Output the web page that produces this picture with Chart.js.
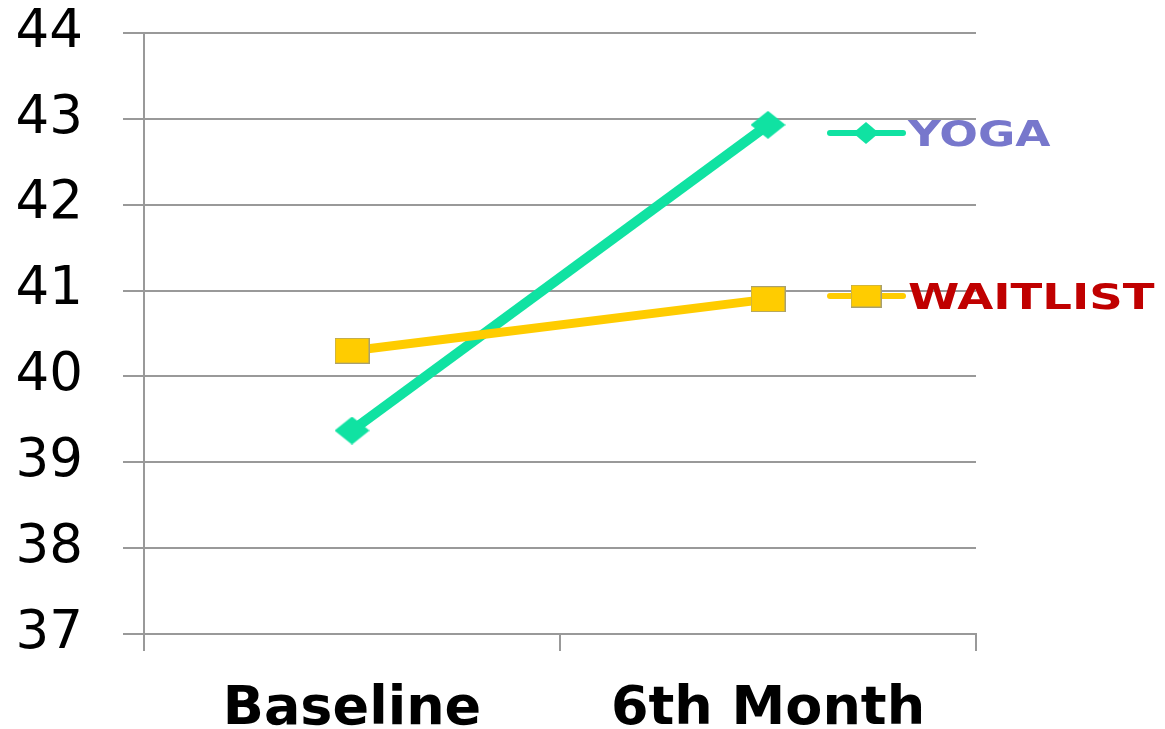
<!DOCTYPE html>
<html>
<head>
<meta charset="utf-8">
<title>Yoga vs Waitlist</title>
<script src="https://cdn.jsdelivr.net/npm/chart.js@4/dist/chart.umd.min.js"></script>
<style>
  html, body { margin: 0; padding: 0; background: #ffffff; }
  canvas { display: block; }
</style>
</head>
<body>
<canvas id="chart" width="1165" height="729"></canvas>
<script>
// Time points and group means
const categories = ['Baseline', '6th Month'];
const seriesNames = ['YOGA', 'WAITLIST'];
const yogaValues = [39.37, 42.93];
const waitlistValues = [40.30, 40.90];
const yTickValues = [37, 38, 39, 40, 41, 42, 43, 44];

// Colours
const yogaColor = '#10E2A2';
const waitColor = '#FFCC00';
const waitEdge = '#A8A070';
const gridColor = '#999999';
const legendTextColors = ['#7777CC', '#C00000'];

// Marker images (slightly wide, as drawn in the original deck)
function diamondImage(w, h, fill) {
  const c = document.createElement('canvas');
  c.width = w; c.height = h;
  const g = c.getContext('2d');
  g.fillStyle = fill;
  g.beginPath();
  g.moveTo(w / 2, 0);
  g.lineTo(w, h / 2);
  g.lineTo(w / 2, h);
  g.lineTo(0, h / 2);
  g.closePath();
  g.fill();
  return c;
}
function rectImage(w, h, fill, edge) {
  const c = document.createElement('canvas');
  c.width = w; c.height = h;
  const g = c.getContext('2d');
  g.fillStyle = fill;
  g.fillRect(0, 0, w, h);
  g.strokeStyle = edge;
  g.lineWidth = 1;
  g.strokeRect(0.5, 0.5, w - 1, h - 1);
  return c;
}

const yogaMarker = diamondImage(35, 28, yogaColor);
const waitMarker = rectImage(35, 26, waitColor, waitEdge);
const yogaLegendMarker = diamondImage(26, 22, yogaColor);
const waitLegendMarker = rectImage(31, 23, waitColor, waitEdge);

// Legend drawn at the right of the plot, one entry per series
const sideLegend = {
  id: 'sideLegend',
  afterDraw(chart) {
    const ctx = chart.ctx;
    const items = [
      { ds: chart.data.datasets[0], marker: yogaLegendMarker, y: 133, text: legendTextColors[0], sx: 1.3 },
      { ds: chart.data.datasets[1], marker: waitLegendMarker, y: 296, text: legendTextColors[1], sx: 1.33 }
    ];
    items.forEach(it => {
      ctx.save();
      ctx.strokeStyle = it.ds.borderColor;
      ctx.lineWidth = 6;
      ctx.lineCap = 'round';
      ctx.beginPath();
      ctx.moveTo(830, it.y);
      ctx.lineTo(903, it.y);
      ctx.stroke();
      ctx.drawImage(it.marker, 866 - it.marker.width / 2, it.y - it.marker.height / 2);
      ctx.translate(908, it.y + 13);
      ctx.scale(it.sx, 1);
      ctx.font = 'bold 35px "DejaVu Sans"';
      ctx.fillStyle = it.text;
      ctx.textBaseline = 'alphabetic';
      ctx.textAlign = 'left';
      ctx.fillText(it.ds.label, 0, 0);
      ctx.restore();
    });
  }
};

new Chart(document.getElementById('chart'), {
  type: 'line',
  data: {
    labels: categories,
    datasets: [
      {
        label: seriesNames[0],
        data: yogaValues,
        borderColor: yogaColor,
        backgroundColor: yogaColor,
        borderWidth: 10,
        pointStyle: yogaMarker,
        pointRadius: 14,
        order: 2
      },
      {
        label: seriesNames[1],
        data: waitlistValues,
        borderColor: waitColor,
        backgroundColor: waitColor,
        borderWidth: 9,
        pointStyle: waitMarker,
        pointRadius: 14,
        order: 1
      }
    ]
  },
  options: {
    responsive: false,
    animation: false,
    devicePixelRatio: 1,
    layout: { padding: { left: 0, right: 189, top: 33, bottom: 0 } },
    plugins: {
      legend: { display: false },
      tooltip: { enabled: false }
    },
    scales: {
      x: {
        type: 'category',
        offset: true,
        afterFit(scale) {
          scale.paddingLeft = 0;
          scale.paddingRight = 0;
          scale.height = 95;
        },
        grid: {
          offset: true,
          drawOnChartArea: false,
          drawTicks: true,
          tickLength: 17,
          color: gridColor,
          lineWidth: 2
        },
        border: { display: true, color: gridColor, width: 2 },
        ticks: {
          color: '#000000',
          padding: 32,
          maxRotation: 0,
          font: { family: '"DejaVu Sans"', size: 54, weight: 'bold', lineHeight: 1.0 }
        }
      },
      y: {
        min: 37,
        max: 44,
        afterBuildTicks(scale) {
          scale.ticks = yTickValues.map(v => ({ value: v }));
        },
        afterFit(scale) {
          scale.paddingTop = 0;
          scale.paddingBottom = 0;
          scale.width = 144;
        },
        grid: {
          color: gridColor,
          lineWidth: 2,
          tickLength: 21,
          drawTicks: true
        },
        border: { display: true, color: gridColor, width: 2 },
        ticks: {
          color: '#000000',
          padding: 40,
          font: { family: '"DejaVu Sans"', size: 53 }
        }
      }
    }
  },
  plugins: [sideLegend]
});
</script>
</body>
</html>
